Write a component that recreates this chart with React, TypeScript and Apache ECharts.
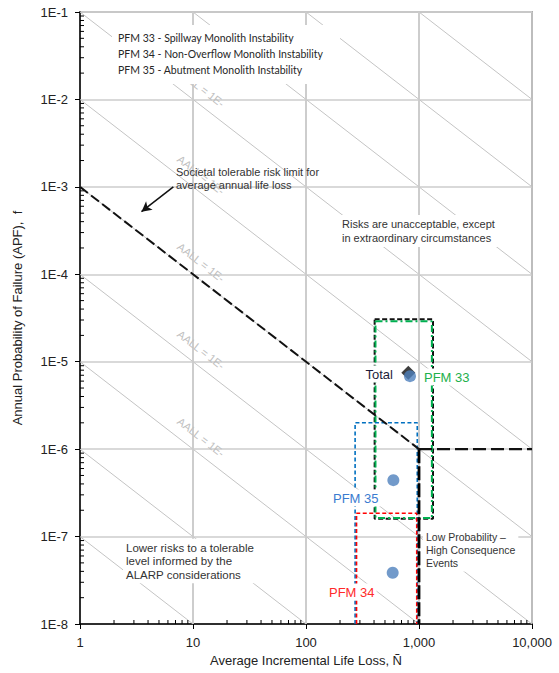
import React, { useEffect, useRef } from "react";
import * as echarts from "echarts";

// ---- axis ranges & ticks ----
const X_RANGE = [1, 10000];
const Y_RANGE = [1e-8, 1e-1];
const MINOR_MULTIPLIERS = [2, 3, 4, 5, 6, 7, 8, 9];
const X_DECADES = [1, 10, 100, 1000];
const Y_DECADES = [1e-8, 1e-7, 1e-6, 1e-5, 1e-4, 1e-3, 1e-2];
const X_GRID = [10, 100, 1000];

// ---- iso-risk (AALL) lines: f * N = level ----
const AALL_LEVELS = [1e-7, 1e-6, 1e-5, 1e-4, 1e-3, 1e-2, 1e-1, 1, 10, 100];
const AALL_LABEL_N = 10;
const AALL_LABEL_F = [1e-2, 1e-3, 1e-4, 1e-5, 1e-6];
const AALL_LABEL_TEXT = "AALL = 1E-";

// ---- tolerable risk limit ----
const SOCIETAL_LIMIT = [[1, 1e-3], [1000, 1e-6]];
const LIMIT_HORIZONTAL = [[1000, 1e-6], [10000, 1e-6]];
const LIMIT_VERTICAL = [[1000, 1e-6], [1000, 1e-8]];
const ARROW = [[6.7, 1.0e-3], [3.5, 5.2e-4]];

// ---- uncertainty boxes ----
const BOX_TOTAL = [[405, 3.05e-5], [1330, 3.05e-5], [1330, 1.6e-7], [405, 1.6e-7], [405, 3.05e-5]];
const BOX_PFM33 = [[412, 2.9e-5], [1300, 2.9e-5], [1300, 1.63e-7], [412, 1.63e-7], [412, 2.9e-5]];
const BOX_PFM35 = [[272, 1e-8], [272, 2e-6], [965, 2e-6], [965, 1e-8]];
const BOX_PFM34 = [[280, 1e-8], [280, 1.85e-7], [955, 1.85e-7], [955, 1e-8]];

// ---- point estimates ----
const POINT_TOTAL = [[804, 7.46e-6]];
const POINT_PFM33 = [[832, 6.84e-6]];
const POINT_PFM35 = [[593, 4.42e-7]];
const POINT_PFM34 = [[585, 3.85e-8]];

// ---- texts ----
const LEGEND_LINES = [
  "PFM 33 - Spillway Monolith Instability",
  "PFM 34 - Non-Overflow Monolith Instability",
  "PFM 35 - Abutment Monolith Instability",
];
const TEXT_SOCIETAL = "Societal tolerable risk limit for\naverage annual life loss";
const TEXT_UNACCEPTABLE = "Risks are unacceptable, except\nin extraordinary circumstances";
const TEXT_ALARP = "Lower risks to a tolerable\nlevel informed by the\nALARP considerations";
const TEXT_LPHC = "Low Probability \u2013\nHigh Consequence\nEvents";

const FONT = "'Liberation Sans', Arial, sans-serif";
const GRID_COLOR = "#cccccc";

function clippedAall(level: number) {
  const n0 = Math.max(X_RANGE[0], level / Y_RANGE[1]);
  const n1 = Math.min(X_RANGE[1], level / Y_RANGE[0]);
  return [[n0, level / n0], [n1, level / n1]];
}

export default function App() {
  const ref = useRef<HTMLDivElement>(null);

  useEffect(() => {
    if (!ref.current) return;
    const chart = echarts.init(ref.current, undefined, { renderer: "svg" });

    const tickData: number[][] = [];
    X_DECADES.forEach((d) => MINOR_MULTIPLIERS.forEach((m) => tickData.push([d * m, Y_RANGE[0], 0])));
    Y_DECADES.forEach((d) => MINOR_MULTIPLIERS.forEach((m) => tickData.push([X_RANGE[0], d * m, 1])));

    const lineSeries = (data: number[][], color: string, width: number, type: any, z: number) => ({
      type: "line",
      data,
      showSymbol: false,
      symbol: "none",
      silent: true,
      z,
      lineStyle: { color, width, type },
    });

    const series: any[] = [];
    X_GRID.forEach((v) =>
      series.push(lineSeries([[v, Y_RANGE[1]], [v, Y_RANGE[0]]], GRID_COLOR, 1.5, "solid", 1))
    );
    AALL_LEVELS.forEach((lv) => series.push(lineSeries(clippedAall(lv), "#c4c4c4", 1, "solid", 1)));
    series.push(lineSeries(BOX_TOTAL, "#111111", 2, [5, 2.5], 3));
    series.push(lineSeries(BOX_PFM33, "#00b050", 2, [7, 3, 2, 3], 3));
    series.push(lineSeries(BOX_PFM35, "#0070c0", 1.6, [4, 2.5], 3));
    series.push(lineSeries(BOX_PFM34, "#ff0000", 1.6, [4, 2.5], 3));
    series.push({
      ...lineSeries(SOCIETAL_LIMIT, "#111111", 2, [10, 4], 4),
      markLine: {
        silent: true,
        symbol: ["none", "arrow"],
        symbolSize: [8, 10],
        label: { show: false },
        lineStyle: { color: "#111", width: 1.5, type: "solid" },
        data: [[{ coord: ARROW[0] }, { coord: ARROW[1] }]],
      },
    });
    series.push(lineSeries(LIMIT_HORIZONTAL, "#111111", 2.2, [13, 5], 4));
    series.push(lineSeries(LIMIT_VERTICAL, "#000000", 2.8, [14, 3], 4));
    series.push({
      type: "scatter",
      data: POINT_TOTAL,
      symbol: "diamond",
      symbolSize: 14,
      itemStyle: { color: "#0e0e0e" },
      silent: true,
      z: 5,
    });
    [POINT_PFM33, POINT_PFM35, POINT_PFM34].forEach((p) =>
      series.push({
        type: "scatter",
        data: p,
        symbol: "circle",
        symbolSize: 12,
        itemStyle: { color: "#4f81bd" },
        silent: true,
        z: 6,
      })
    );
    series.push({
      type: "custom",
      silent: true,
      z: 7,
      clip: false,
      data: tickData,
      renderItem: (params: any, api: any) => {
        const p = api.coord([api.value(0), api.value(1)]);
        const horiz = api.value(2) === 1;
        return {
          type: "line",
          shape: horiz
            ? { x1: p[0], y1: p[1], x2: p[0] + 4, y2: p[1] }
            : { x1: p[0], y1: p[1], x2: p[0], y2: p[1] - 4 },
          style: { stroke: "#000", lineWidth: 1 },
        };
      },
    });

    const option: any = {
      animation: false,
      textStyle: { fontFamily: FONT },
      grid: {
        left: 80,
        right: 27,
        top: 12,
        bottom: 49,
        show: true,
        borderColor: "#6e6e6e",
        borderWidth: 1.5,
      },
      xAxis: {
        type: "log",
        logBase: 10,
        min: X_RANGE[0],
        max: X_RANGE[1],
        name: "Average Incremental Life Loss, \u00d1",
        nameLocation: "middle",
        nameGap: 28,
        nameTextStyle: { fontSize: 13, color: "#222", fontFamily: FONT },
        axisLine: { show: true, lineStyle: { color: "#000", width: 1.5 } },
        axisTick: { show: true, length: 5, lineStyle: { color: "#000", width: 1 } },
        axisLabel: {
          fontSize: 13,
          color: "#222",
          margin: 12,
          fontFamily: FONT,
          formatter: (v: number) => Math.round(v).toLocaleString("en-US"),
        },
        splitLine: { show: true, lineStyle: { color: GRID_COLOR, width: 1.5 } },
      },
      yAxis: {
        type: "log",
        logBase: 10,
        min: Y_RANGE[0],
        max: Y_RANGE[1],
        name: "Annual Probability of Failure (APF),  f",
        nameLocation: "middle",
        nameGap: 56,
        nameTextStyle: { fontSize: 13, color: "#222", fontFamily: FONT },
        axisLine: { show: true, lineStyle: { color: "#000", width: 1.5 } },
        axisTick: { show: true, length: 5, lineStyle: { color: "#000", width: 1 } },
        axisLabel: {
          fontSize: 13,
          color: "#222",
          margin: 12,
          fontFamily: FONT,
          formatter: (v: number) => "1E" + Math.round(Math.log10(v)),
        },
        splitLine: { show: true, lineStyle: { color: GRID_COLOR, width: 1.5 } },
      },
      series,
    };

    chart.setOption(option);

    // annotation graphics
    const graphics: any[] = [];
    const topPx = chart.convertToPixel({ gridIndex: 0 } as any, [1, Y_RANGE[1]]) as number[];
    const botPx = chart.convertToPixel({ gridIndex: 0 } as any, [1, Y_RANGE[0]]) as number[];
    X_GRID.forEach((v) => {
      const p = chart.convertToPixel({ gridIndex: 0 } as any, [v, Y_RANGE[0]]) as number[];
      const x = Math.round(p[0]);
      graphics.push({
        type: "line",
        z: 2,
        silent: true,
        shape: { x1: x, y1: topPx[1], x2: x, y2: botPx[1] },
        style: { stroke: GRID_COLOR, lineWidth: 1.5 },
      });
    });
    const pA = chart.convertToPixel({ gridIndex: 0 } as any, [1, 1e-1]) as number[];
    const pB = chart.convertToPixel({ gridIndex: 0 } as any, [10, 1e-2]) as number[];
    const angle = -Math.atan2(pB[1] - pA[1], pB[0] - pA[0]);
    AALL_LABEL_F.forEach((f) => {
      const p = chart.convertToPixel({ gridIndex: 0 } as any, [AALL_LABEL_N, f]) as number[];
      graphics.push({
        type: "text",
        x: p[0] + 8,
        y: p[1] - 12,
        rotation: angle,
        z: 3,
        silent: true,
        style: {
          text: AALL_LABEL_TEXT,
          fill: "#c0c0c0",
          font: "11px " + FONT,
          align: "center",
          verticalAlign: "middle",
        },
      });
    });
    graphics.push({
      type: "rect",
      z: 20,
      silent: true,
      shape: { x: 112, y: 25, width: 228, height: 59 },
      style: { fill: "#ffffff" },
    });
    LEGEND_LINES.forEach((t, i) =>
      graphics.push({
        type: "text",
        z: 21,
        silent: true,
        x: 118,
        y: 38 + i * 16,
        style: {
          text: t,
          fill: "#262626",
          font: "10.5px Lato, 'Open Sans', sans-serif",
          align: "left",
          verticalAlign: "middle",
        },
      })
    );
    const block = (text: string, x: number, yCenter1: number, lh: number, size: number, bg: boolean) => ({
      type: "text",
      z: 21,
      silent: true,
      x: bg ? x - 3 : x,
      y: yCenter1 - lh / 2 - (bg ? 2 : 0),
      style: {
        text,
        fill: "#333333",
        font: size + "px " + FONT,
        lineHeight: lh,
        align: "left",
        verticalAlign: "top",
        backgroundColor: bg ? "#ffffff" : undefined,
        padding: bg ? [2, 3, 2, 3] : 0,
      },
    });
    graphics.push(block(TEXT_SOCIETAL, 176, 172, 13, 11, false));
    graphics.push(block(TEXT_UNACCEPTABLE, 342, 224, 14, 11, true));
    graphics.push(block(TEXT_ALARP, 126, 547.5, 13.5, 11.5, true));
    graphics.push(block(TEXT_LPHC, 426, 537, 13, 10.5, true));
    const tag = (text: string, x: number, y: number, color: string, align: string) => ({
      type: "text",
      z: 21,
      silent: true,
      x: align === "right" ? x + 2 : x - 2,
      y,
      style: {
        text,
        fill: color,
        font: "13px " + FONT,
        align,
        verticalAlign: "middle",
        backgroundColor: "#ffffff",
        padding: [2, 2, 2, 2],
      },
    });
    graphics.push(tag("Total", 393, 374, "#1c1c3a", "right"));
    graphics.push(tag("PFM 33", 424, 377, "#22b04b", "left"));
    graphics.push(tag("PFM 35", 333, 498, "#3a7bd0", "left"));
    graphics.push(tag("PFM 34", 329, 592, "#ff2a2a", "left"));

    chart.setOption({ graphic: graphics });

    return () => chart.dispose();
  }, []);

  return (
    <div
      ref={ref}
      style={{ position: "absolute", left: 0, top: 0, width: 559, height: 673, background: "#fff" }}
    />
  );
}
